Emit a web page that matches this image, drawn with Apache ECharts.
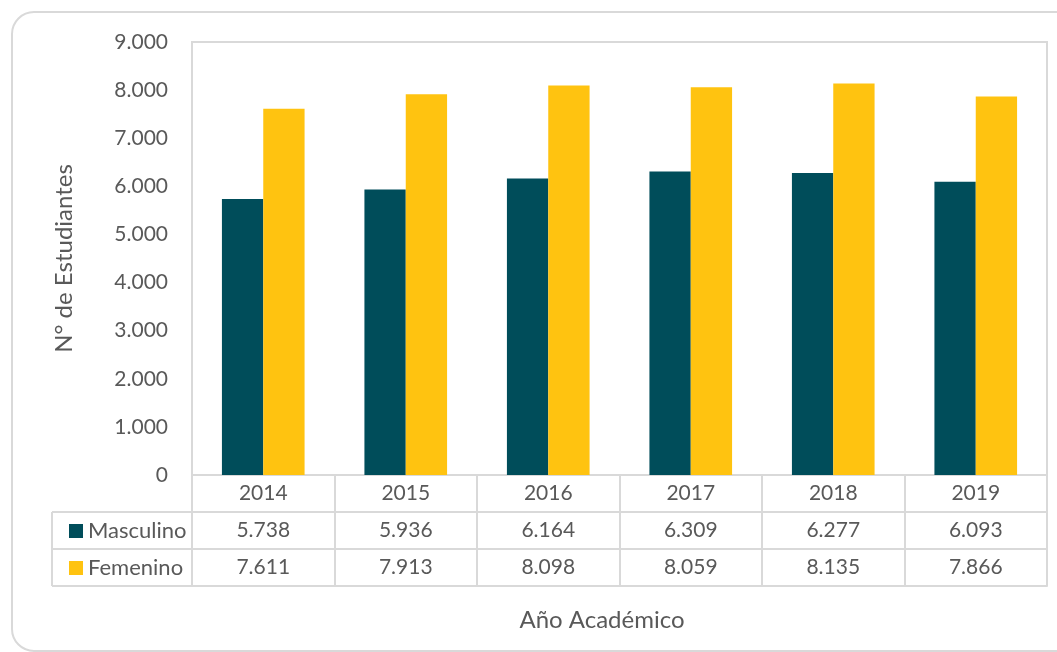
<!DOCTYPE html>
<html>
<head>
<meta charset="utf-8">
<script src="https://cdn.jsdelivr.net/npm/echarts@6/dist/echarts.min.js"></script>
<style>
    html, body { margin: 0; padding: 0; background: #fff; }
    #chart { width: 1057px; height: 652px; }
</style>
</head>
<body>
<div id="chart"></div>
<script>
// datos del gráfico
var years = ['2014', '2015', '2016', '2017', '2018', '2019'];
var masculino = [5738, 5936, 6164, 6309, 6277, 6093];
var femenino = [7611, 7913, 8098, 8059, 8135, 7866];
var yTicks = [0, 1000, 2000, 3000, 4000, 5000, 6000, 7000, 8000, 9000];

var txtColor = '#595959';
var lineColor = '#d9d9d9';
var font = 'Lato';

/** separador de miles con punto */
function fmt(v) {
    return String(v).replace(/\B(?=(\d{3})+(?!\d))/g, '.');
}

// filas de la tabla de datos (un eje por fila)
function tableAxis(offset, values) {
    return {
        type: 'category',
        data: years,
        position: 'bottom',
        offset: offset,
        axisLine: { show: true, lineStyle: { color: lineColor, width: 2 } },
        axisTick: { show: values !== null, length: 37, interval: 0, lineStyle: { color: lineColor, width: 2 } },
        axisLabel: {
            show: values !== null,
            margin: 8,
            fontSize: 21,
            fontFamily: font,
            color: txtColor,
            formatter: function (v, i) { return values ? values[i] : v; }
        }
    };
}

var chart = echarts.init(document.getElementById('chart'));

var xAxes = [
    tableAxis(0, years),
    tableAxis(37, masculino.map(fmt)),
    tableAxis(74, femenino.map(fmt)),
    tableAxis(111, null)
];
xAxes[3].name = 'Año Académico';
xAxes[3].nameLocation = 'middle';
xAxes[3].nameGap = 22;
xAxes[3].nameTextStyle = { fontSize: 24, fontFamily: font, color: txtColor, padding: [0, 35, 0, 0] };

var option = {
    animation: false,
    grid: {
        left: 192, right: 10, top: 42, bottom: 177,
        show: true, borderColor: lineColor, borderWidth: 2
    },
    legend: {
        orient: 'vertical',
        left: 64, top: 515,
        icon: 'rect',
        itemWidth: 14, itemHeight: 14,
        itemGap: 15,
        textStyle: { fontSize: 22, fontFamily: font, color: txtColor, lineHeight: 22 },
        data: ['Masculino', 'Femenino']
    },
    xAxis: xAxes,
    yAxis: {
        type: 'value',
        min: yTicks[0], max: yTicks[yTicks.length - 1], interval: 1000,
        name: 'N° de Estudiantes',
        nameLocation: 'middle',
        nameGap: 116,
        nameTextStyle: { fontSize: 24, fontFamily: font, color: txtColor },
        axisLine: { show: true, lineStyle: { color: lineColor, width: 2 } },
        axisTick: { show: false },
        splitLine: { show: false },
        axisLabel: { margin: 24, fontSize: 21, fontFamily: font, color: txtColor, formatter: fmt }
    },
    series: [{
        name: 'Masculino',
        type: 'bar',
        data: masculino,
        itemStyle: { color: '#004d5a' },
        barGap: '0%',
        barCategoryGap: '42%'
    }, {
        name: 'Femenino',
        type: 'bar',
        data: femenino,
        itemStyle: { color: '#ffc310' },
        barGap: '0%',
        barCategoryGap: '42%'
    }],
    graphic: [
        // marco exterior
        { type: 'rect', shape: { x: 12, y: 12, width: 1070, height: 639, r: 22 },
          style: { fill: null, stroke: lineColor, lineWidth: 2 }, silent: true },
        // columna izquierda de la tabla
        { type: 'line', shape: { x1: 52, y1: 512, x2: 192, y2: 512 }, style: { stroke: lineColor, lineWidth: 2 } },
        { type: 'line', shape: { x1: 52, y1: 549, x2: 192, y2: 549 }, style: { stroke: lineColor, lineWidth: 2 } },
        { type: 'line', shape: { x1: 52, y1: 586, x2: 192, y2: 586 }, style: { stroke: lineColor, lineWidth: 2 } },
        { type: 'line', shape: { x1: 52, y1: 512, x2: 52, y2: 586 }, style: { stroke: lineColor, lineWidth: 2 } }
    ]
};
chart.setOption(option);
</script>
</body>
</html>
